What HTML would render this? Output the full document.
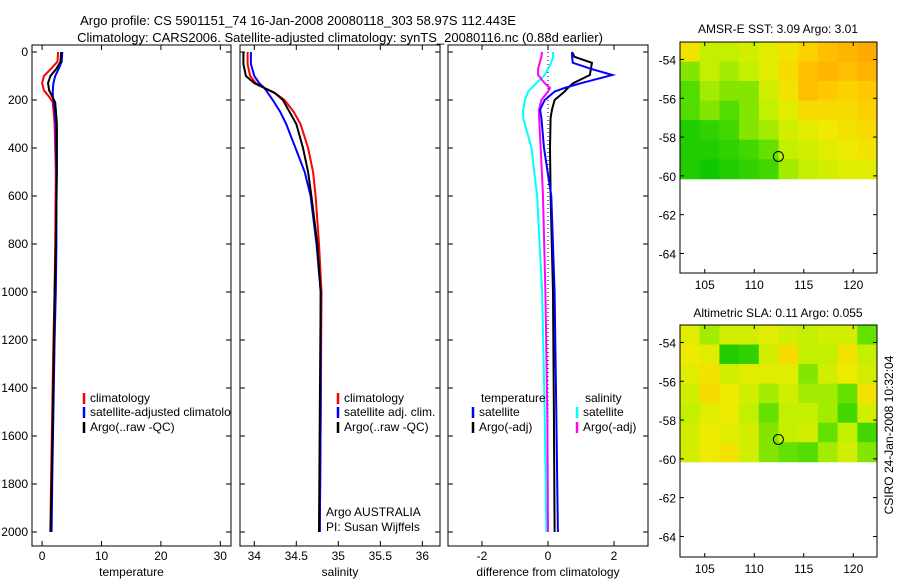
<!DOCTYPE html>
<html><head><meta charset="utf-8"><style>
html,body{margin:0;padding:0;background:#fff;width:900px;height:580px;overflow:hidden}
svg{font-family:"Liberation Sans",sans-serif;font-size:12px}
</style></head><body>
<svg id="fig" width="900" height="580" viewBox="0 0 900 580" xmlns="http://www.w3.org/2000/svg">
<text x="298" y="25" text-anchor="middle" font-size="13">Argo profile: CS 5901151_74 16-Jan-2008 20080118_303 58.97S 112.443E</text>
<text x="340" y="42" text-anchor="middle" font-size="13">Climatology: CARS2006. Satellite-adjusted climatology: synTS_20080116.nc (0.88d earlier)</text>
<text x="778" y="33" text-anchor="middle">AMSR-E SST: 3.09 Argo: 3.01</text>
<text x="778" y="317" text-anchor="middle">Altimetric SLA: 0.11 Argo: 0.055</text>
<text transform="translate(893,435) rotate(-90)" text-anchor="middle">CSIRO 24-Jan-2008 10:32:04</text>
<g id="plots"></g>
</svg>
<script>
// ---- profile data ----
const tempDepths=[0,40,70,100,130,160,190,210,300,500,800,1000,1200,1500,1800,2000];
const tempClim=[2.7,2.6,1.5,0.3,0.0,0.3,1.3,1.8,2.1,2.3,2.2,2.1,1.9,1.7,1.5,1.4];
const tempArgo=[3.2,3.1,2.4,1.4,1.0,1.2,1.8,2.2,2.5,2.5,2.3,2.1,2.0,1.8,1.6,1.4];
const tempSat=[3.4,3.3,2.8,2.2,1.9,1.8,1.8,2.0,2.3,2.4,2.4,2.3,2.1,1.9,1.7,1.6];
const salDepths=[0,50,100,130,150,170,200,250,300,400,500,600,800,1000,1500,2000];
const salClim=[33.92,33.92,33.95,34.02,34.12,34.24,34.36,34.47,34.55,34.64,34.70,34.73,34.77,34.80,34.79,34.78];
const salArgo=[33.87,33.87,33.9,34.0,34.12,34.24,34.34,34.42,34.5,34.58,34.64,34.68,34.75,34.79,34.78,34.77];
const salSat=[33.96,33.96,34.0,34.06,34.12,34.16,34.22,34.31,34.38,34.49,34.6,34.67,34.74,34.79,34.79,34.78];
const diffDepths=[0,20,45,70,96,130,150,165,200,240,275,400,600,1000,1500,2000];
const dTempSat=[0.73,0.73,0.75,1.3,1.95,1.0,0.5,0.2,-0.1,-0.24,-0.2,-0.12,0.1,0.2,0.25,0.3];
const dTempArgo=[0.73,0.8,1.33,1.3,1.27,0.76,0.6,0.5,0.2,0.12,0.08,0.06,0.08,0.15,0.18,0.2];
const dSalSat=[0.15,0.15,0.1,0.0,-0.1,-0.35,-0.5,-0.6,-0.7,-0.75,-0.75,-0.5,-0.33,-0.18,-0.1,-0.05];
const dSalArgo=[-0.18,-0.2,-0.25,-0.3,-0.3,-0.1,0.06,0.0,-0.2,-0.27,-0.27,-0.22,-0.15,-0.08,-0.02,0.0];
const depthTicks=[0,200,400,600,800,1000,1200,1400,1600,1800,2000];
const tempTicks=[0,10,20,30];
const salTicks=[34,34.5,35,35.5,36];
const salTickLabels=["34","34.5","35","35.5","36"];
const diffTicks=[-2,0,2];
// ---- map data ----
const lonTicks=[105,110,115,120];
const latTicks=[-54,-56,-58,-60,-62,-64];
const sstGrid=[
[0.65,0.45,0.45,0.5,0.55,0.65,0.75,0.85,0.9,0.95],
[0.35,0.45,0.4,0.45,0.55,0.7,0.85,0.9,0.85,0.9],
[0.25,0.4,0.35,0.35,0.5,0.65,0.85,0.8,0.75,0.8],
[0.25,0.35,0.25,0.35,0.45,0.55,0.7,0.7,0.7,0.75],
[0.1,0.15,0.2,0.35,0.4,0.5,0.55,0.6,0.65,0.7],
[0.1,0.1,0.15,0.2,0.3,0.45,0.5,0.55,0.6,0.65],
[0.1,0.05,0.1,0.15,0.2,0.4,0.45,0.5,0.55,0.55]];
const slaGrid=[
[0.55,0.4,0.5,0.5,0.55,0.5,0.45,0.5,0.5,0.3],
[0.6,0.55,0.1,0.15,0.5,0.7,0.45,0.45,0.65,0.45],
[0.55,0.65,0.5,0.55,0.55,0.55,0.35,0.5,0.6,0.5],
[0.5,0.7,0.6,0.5,0.4,0.5,0.4,0.4,0.3,0.65],
[0.45,0.55,0.6,0.45,0.3,0.45,0.45,0.4,0.2,0.5],
[0.5,0.6,0.55,0.5,0.35,0.45,0.5,0.3,0.45,0.2],
[0.5,0.6,0.65,0.5,0.35,0.3,0.25,0.4,0.5,0.35]];
const floatLon=112.44, floatLat=-59.0;

const NS="http://www.w3.org/2000/svg";
const root=document.getElementById('plots');
function el(tag,attrs,parent){const e=document.createElementNS(NS,tag);for(const k in attrs)e.setAttribute(k,attrs[k]);(parent||root).appendChild(e);return e;}
function txt(s,attrs,parent){const e=el('text',attrs,parent);e.textContent=s;return e;}

const PT=52, PB=546, D0=0;
const yD=d=>PT+(d-D0)*0.24;
function panel(name,L,R,xmin,xmax,ticks,labels,xlabel,showY){
  const g=el('g',{});
  
  
  const xs=v=>L+(v-xmin)/(xmax-xmin)*(R-L);
  const r=el('rect',{x:L,y:PT-7,width:R-L,height:PB-PT+7,fill:'none',stroke:'#000','stroke-width':1},g);
  
  
  ticks.forEach((t,i)=>{
    const x=xs(t);
    el('line',{x1:x,x2:x,y1:PB,y2:PB-5,stroke:'#000'},g);
    el('line',{x1:x,x2:x,y1:PT-7,y2:PT-2,stroke:'#000'},g);
    const tl=txt(labels[i],{x:x,y:PB+14,'text-anchor':'middle'},g);
    
    
  });
  depthTicks.forEach(d=>{
    const y=yD(d);
    el('line',{x1:L,x2:L+5,y1:y,y2:y,stroke:'#000'},g);
    el('line',{x1:R,x2:R-5,y1:y,y2:y,stroke:'#000'},g);
    if(showY){const tl=txt(String(d),{x:L-4,y:y+4,'text-anchor':'end'},g);
      
      }
  });
  const xl=txt(xlabel,{x:(L+R)/2,y:PB+30,'text-anchor':'middle'},g);
  
  
  return {g,xs};
}
function series(p,depths,vals,color,name){
  const pts=depths.map((d,i)=>p.xs(vals[i]).toFixed(1)+','+yD(d).toFixed(1)).join(' ');
  const l=el('polyline',{points:pts,fill:'none',stroke:color,'stroke-width':2},p.g);
  
  
}
function legend(p,x,y,color,label,name){
  el('line',{x1:x,x2:x,y1:y-9,y2:y+2,stroke:color,'stroke-width':2.5},p.g);
  const t=txt(label,{x:x+6,y:y},p.g);
  
  
}
// panel 1
const p1=panel('temperature-panel',32,231,-1.7,31.8,tempTicks,tempTicks.map(String),'temperature',true);
series(p1,tempDepths,tempClim,'#f00','temp-climatology-line');
series(p1,tempDepths,tempSat,'#00f','temp-satellite-line');
series(p1,tempDepths,tempArgo,'#000','temp-argo-line');
const clip=el('clipPath',{id:'c1'});el('rect',{x:32,y:0,width:199,height:580},clip);
const lg1=el('g',{'clip-path':'url(#c1)'},p1.g);
legend({g:lg1},84,402,'#f00','climatology','legend-climatology');
legend({g:lg1},84,416,'#00f','satellite-adjusted climatology','legend-satellite-adjusted');
legend({g:lg1},84,431,'#000','Argo(..raw -QC)','legend-argo');
// panel 2
const p2=panel('salinity-panel',240,440,33.83,36.21,salTicks,salTickLabels,'salinity',false);
series(p2,salDepths,salClim,'#f00','sal-climatology-line');
series(p2,salDepths,salSat,'#00f','sal-satellite-line');
series(p2,salDepths,salArgo,'#000','sal-argo-line');
legend(p2,338,402,'#f00','climatology','legend-sal-climatology');
legend(p2,338,416,'#00f','satellite adj. clim.','legend-sal-satellite');
legend(p2,338,431,'#000','Argo(..raw -QC)','legend-sal-argo');
let t=txt('Argo AUSTRALIA',{x:326,y:516},p2.g);
t=txt('PI: Susan Wijffels',{x:326,y:531},p2.g);
// panel 3
const p3=panel('difference-panel',448,648,-3.03,3.03,diffTicks,diffTicks.map(String),'difference from climatology',false);
el('line',{x1:p3.xs(0),x2:p3.xs(0),y1:PT,y2:yD(2000),stroke:'#000','stroke-width':1,'stroke-dasharray':'1,3'},p3.g);
series(p3,diffDepths,dSalSat,'#0ff','diff-sal-satellite-line');
series(p3,diffDepths,dSalArgo,'#f0f','diff-sal-argo-line');
series(p3,diffDepths,dTempArgo,'#000','diff-temp-argo-line');
series(p3,diffDepths,dTempSat,'#00f','diff-temp-satellite-line');
t=txt('temperature',{x:481,y:402},p3.g);
t=txt('salinity',{x:585,y:402},p3.g);
legend(p3,473,416,'#00f','satellite','legend-diff-temp-satellite');
legend(p3,473,431,'#000','Argo(-adj)','legend-diff-temp-argo');
legend(p3,577,416,'#0ff','satellite','legend-diff-sal-satellite');
legend(p3,577,431,'#f0f','Argo(-adj)','legend-diff-sal-argo');

// ---- maps ----
const stops=[[0,[0,195,0]],[0.3,[100,225,0]],[0.45,[195,240,0]],[0.6,[238,235,0]],[0.8,[255,200,0]],[1,[255,160,0]]];
function cmap(v){for(let i=1;i<stops.length;i++){if(v<=stops[i][0]){const a=stops[i-1],b=stops[i],f=(v-a[0])/(b[0]-a[0]);return 'rgb('+a[1].map((c,j)=>Math.round(c+f*(b[1][j]-c))).join(',')+')';}}return 'rgb(255,160,0)';}
function map(name,top,bottom,grid){
  const g=el('g',{});
  
  
  const L=680,R=877,lon0=102.5,lon1=122.4,latTop=-53.1;
  const xs=v=>L+(v-lon0)/(lon1-lon0)*(R-L);
  const ys=v=>top+(latTop-v)*19.4;
  const dataLatBot=-60.15, rows=grid.length, cols=grid[0].length;
  const cw=(lon1-lon0)/cols, ch=(latTop-dataLatBot)/rows;
  grid.forEach((row,ri)=>row.forEach((v,ci)=>{
    const x0=xs(lon0+ci*cw),x1=xs(lon0+(ci+1)*cw),y0=ys(latTop-ri*ch),y1=ys(latTop-(ri+1)*ch);
    const c=el('rect',{x:x0,y:y0,width:x1-x0+0.5,height:y1-y0+0.5,fill:cmap(v)},g);
    
    
  }));
  el('rect',{x:L,y:top,width:R-L,height:bottom-top,fill:'none',stroke:'#000'},g);
  lonTicks.forEach(v=>{const x=xs(v);
    el('line',{x1:x,x2:x,y1:bottom,y2:bottom-4,stroke:'#000'},g);
    el('line',{x1:x,x2:x,y1:top,y2:top+4,stroke:'#000'},g);
    const l=txt(String(v),{x:x,y:bottom+16,'text-anchor':'middle'},g);
    
    });
  latTicks.forEach(v=>{const y=ys(v);
    el('line',{x1:L,x2:L+4,y1:y,y2:y,stroke:'#000'},g);
    el('line',{x1:R,x2:R-4,y1:y,y2:y,stroke:'#000'},g);
    const l=txt(String(v),{x:L-4,y:y+5,'text-anchor':'end'},g);
    
    });
  const m=el('circle',{cx:xs(floatLon),cy:ys(floatLat),r:5,fill:'none',stroke:'#000'},g);
  
  
}
map('sst-map',42,273,sstGrid);
map('sla-map',325,557,slaGrid);
</script>
</body></html>
